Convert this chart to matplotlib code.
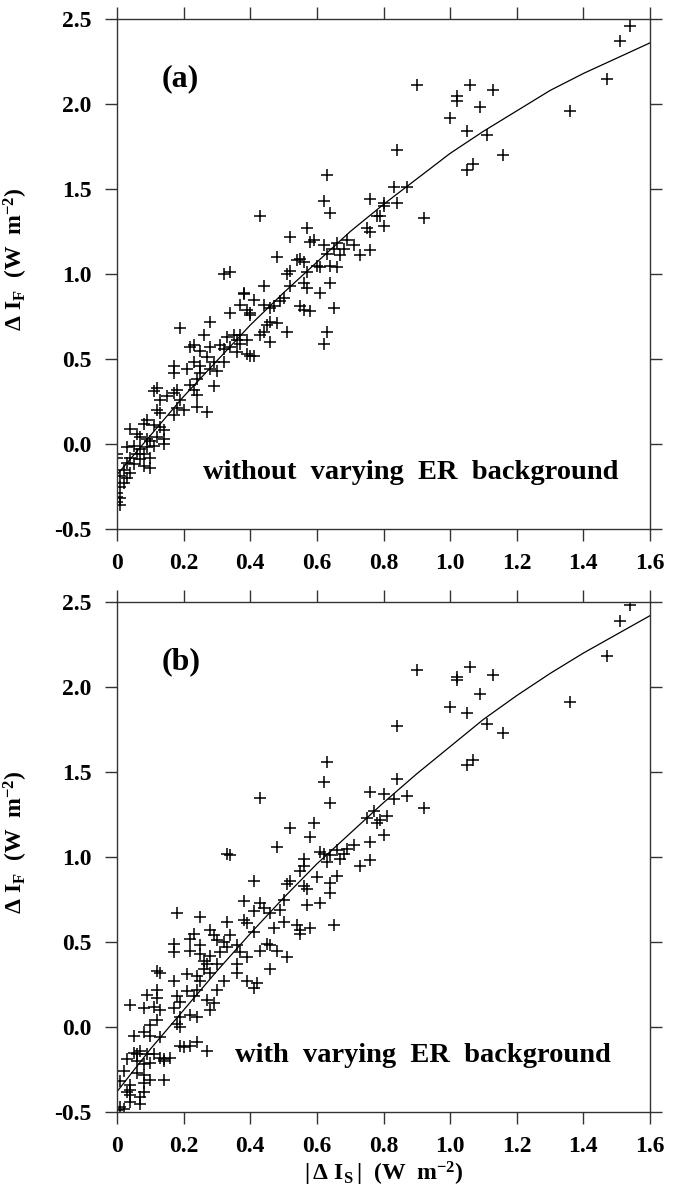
import matplotlib
matplotlib.use('Agg')
import matplotlib.pyplot as plt

plt.rcParams['font.family'] = ['Liberation Serif', 'DejaVu Serif']
plt.rcParams['font.weight'] = 'bold'
plt.rcParams['mathtext.fontset'] = 'custom'
plt.rcParams['mathtext.rm'] = 'Liberation Serif:bold'
plt.rcParams['mathtext.it'] = 'Liberation Serif:bold'
plt.rcParams['mathtext.bf'] = 'Liberation Serif:bold'

# panel (a): without varying ER background
pts_a = [
    (1.54, 2.46), (1.51, 2.37), (1.47, 2.15), (1.36, 1.96), (1.16, 1.70), (1.13, 2.08),
    (1.11, 1.82), (1.09, 1.98), (1.07, 1.65), (1.06, 2.11), (1.05, 1.84), (1.05, 1.61),
    (1.02, 2.05), (1.02, 2.02), (1.00, 1.92), (0.90, 2.11), (0.92, 1.33), (0.84, 1.73),
    (0.83, 1.51), (0.87, 1.51), (0.84, 1.42), (0.80, 1.40), (0.80, 1.42), (0.80, 1.28),
    (0.79, 1.34),
    (0.63, 1.58), (0.62, 1.43), (0.64, 1.36), (0.43, 1.34), (0.76, 1.44), (0.78, 1.34),
    (0.75, 1.27), (0.76, 1.25), (0.57, 1.27), (0.52, 1.22), (0.59, 1.20), (0.58, 1.19),
    (0.62, 1.17), (0.66, 1.18), (0.69, 1.20), (0.71, 1.17), (0.68, 1.15), (0.65, 1.15),
    (0.63, 1.12), (0.67, 1.11), (0.76, 1.14), (0.73, 1.11), (0.48, 1.10), (0.55, 1.09),
    (0.56, 1.07), (0.54, 1.08), (0.61, 1.04), (0.60, 1.05), (0.64, 1.05), (0.66, 1.04),
    (0.52, 1.02), (0.51, 1.00), (0.57, 1.01), (0.44, 0.93), (0.52, 0.93), (0.56, 0.95),
    (0.57, 0.92), (0.64, 0.95), (0.61, 0.89), (0.38, 0.89), (0.41, 0.85), (0.50, 0.86),
    (0.49, 0.84), (0.47, 0.81), (0.44, 0.82), (0.55, 0.81), (0.56, 0.79), (0.58, 0.78),
    (0.65, 0.80), (0.39, 0.79), (0.40, 0.76), (0.46, 0.72), (0.45, 0.70), (0.48, 0.71),
    (0.51, 0.66), (0.44, 0.66), (0.43, 0.64), (0.63, 0.66), (0.62, 0.59), (0.46, 0.60),
    (0.39, 0.61), (0.37, 0.64), (0.37, 0.59), (0.39, 0.53), (0.41, 0.52), (0.32, 1.00),
    (0.34, 1.01), (0.38, 0.88), (0.34, 0.77), (0.28, 0.72), (0.19, 0.68), (0.37, 0.82),
    (0.40, 0.77), (0.46, 0.80),
    (0.26, 0.64), (0.23, 0.58), (0.22, 0.57), (0.25, 0.55), (0.28, 0.57), (0.31, 0.58),
    (0.32, 0.56), (0.34, 0.57), (0.36, 0.54), (0.33, 0.63), (0.35, 0.64), (0.36, 0.61),
    (0.40, 0.52), (0.32, 0.48), (0.29, 0.48), (0.27, 0.51), (0.23, 0.48), (0.17, 0.46),
    (0.17, 0.42), (0.21, 0.44), (0.25, 0.46), (0.25, 0.42), (0.28, 0.44), (0.30, 0.43),
    (0.24, 0.38), (0.22, 0.35), (0.29, 0.34), (0.23, 0.32), (0.18, 0.32), (0.17, 0.30),
    (0.12, 0.33), (0.11, 0.31), (0.15, 0.28), (0.19, 0.26), (0.24, 0.29), (0.13, 0.26),
    (0.12, 0.20), (0.13, 0.18), (0.18, 0.21), (0.20, 0.20), (0.24, 0.22), (0.27, 0.19),
    (0.17, 0.17), (0.09, 0.14), (0.08, 0.12), (0.11, 0.11), (0.13, 0.10), (0.14, 0.08),
    (0.04, 0.09), (0.06, 0.06), (0.07, 0.04), (0.09, 0.03), (0.10, 0.02), (0.12, 0.04),
    (0.14, 0.03), (0.14, 0.00), (0.03, -0.02), (0.05, -0.01), (0.07, -0.03), (0.09, -0.02),
    (0.11, -0.01), (0.08, -0.06), (0.06, -0.06), (0.04, -0.08), (0.10, -0.08), (0.07, -0.09),
    (0.00, -0.08), (0.03, -0.11), (0.05, -0.12), (0.08, -0.13), (0.10, -0.14), (0.02, -0.15),
    (0.04, -0.17), (0.01, -0.19), (0.03, -0.20), (0.02, -0.23), (0.01, -0.25), (0.00, -0.29),
    (0.01, -0.32), (0.00, -0.34), (0.01, -0.36), (0.00, -0.31), (0.00, -0.06),
]

# panel (b): with varying ER background
pts_b = [
    (1.54, 2.48), (1.51, 2.39), (1.47, 2.18), (1.36, 1.91), (1.16, 1.73), (1.13, 2.07),
    (1.11, 1.78), (1.09, 1.96), (1.07, 1.57), (1.06, 2.12), (1.05, 1.85), (1.05, 1.54),
    (1.02, 2.06), (1.02, 2.04), (1.00, 1.88), (0.90, 2.10), (0.92, 1.29), (0.84, 1.77),
    (0.84, 1.46), (0.87, 1.36), (0.83, 1.34), (0.80, 1.37), (0.81, 1.24), (0.80, 1.13),
    (0.79, 1.22),
    (0.63, 1.56), (0.62, 1.44), (0.64, 1.32), (0.43, 1.35), (0.76, 1.38), (0.77, 1.27),
    (0.75, 1.23), (0.78, 1.20), (0.76, 1.09), (0.76, 0.98), (0.73, 0.95), (0.71, 1.07),
    (0.69, 1.05), (0.68, 1.02), (0.67, 0.99), (0.66, 1.04), (0.64, 1.01), (0.62, 1.02),
    (0.63, 0.97), (0.61, 1.03), (0.59, 1.20), (0.52, 1.17), (0.58, 1.12), (0.48, 1.06),
    (0.56, 0.99), (0.56, 0.95), (0.55, 0.92), (0.66, 0.89), (0.60, 0.88), (0.64, 0.85),
    (0.52, 0.86), (0.51, 0.84), (0.41, 0.86), (0.56, 0.83), (0.57, 0.81), (0.64, 0.79),
    (0.50, 0.75), (0.61, 0.73), (0.57, 0.72), (0.43, 0.73), (0.44, 0.70), (0.41, 0.68),
    (0.46, 0.67), (0.49, 0.69), (0.50, 0.62), (0.38, 0.74), (0.38, 0.63), (0.39, 0.61),
    (0.47, 0.58), (0.54, 0.60), (0.55, 0.57), (0.58, 0.58), (0.65, 0.60), (0.41, 0.56),
    (0.55, 0.55), (0.33, 1.02), (0.34, 1.01), (0.45, 0.49), (0.46, 0.48), (0.48, 0.45),
    (0.51, 0.41), (0.43, 0.45),
    (0.18, 0.67), (0.25, 0.65), (0.33, 0.62), (0.28, 0.57), (0.23, 0.55), (0.22, 0.52),
    (0.29, 0.54), (0.30, 0.51), (0.34, 0.54), (0.32, 0.50), (0.17, 0.49), (0.17, 0.44),
    (0.22, 0.45), (0.25, 0.48), (0.25, 0.43), (0.28, 0.42), (0.31, 0.44), (0.33, 0.47),
    (0.36, 0.48), (0.37, 0.44), (0.39, 0.41), (0.26, 0.39), (0.27, 0.37), (0.30, 0.37),
    (0.36, 0.37), (0.12, 0.33), (0.13, 0.32), (0.26, 0.34), (0.28, 0.32), (0.36, 0.32),
    (0.46, 0.34), (0.21, 0.31), (0.24, 0.30), (0.17, 0.27), (0.25, 0.27), (0.32, 0.27),
    (0.39, 0.27), (0.42, 0.26), (0.41, 0.23), (0.12, 0.22), (0.21, 0.21), (0.24, 0.22),
    (0.30, 0.22), (0.09, 0.19), (0.12, 0.17), (0.18, 0.18), (0.23, 0.18), (0.19, 0.15),
    (0.27, 0.16), (0.29, 0.14), (0.04, 0.13), (0.08, 0.11), (0.11, 0.12), (0.13, 0.10),
    (0.17, 0.11), (0.28, 0.10), (0.22, 0.07), (0.24, 0.06), (0.19, 0.06), (0.12, 0.04),
    (0.10, 0.01), (0.18, 0.02), (0.19, 0.00), (0.08, -0.03), (0.10, -0.05), (0.13, -0.06),
    (0.05, -0.05), (0.19, -0.11), (0.22, -0.11), (0.24, -0.09), (0.27, -0.14), (0.20, -0.12),
    (0.05, -0.15), (0.06, -0.16), (0.07, -0.14), (0.09, -0.16), (0.11, -0.16), (0.13, -0.18),
    (0.14, -0.19), (0.16, -0.18), (0.03, -0.19), (0.06, -0.20), (0.08, -0.22), (0.10, -0.21),
    (0.14, -0.20), (0.02, -0.26), (0.06, -0.27), (0.08, -0.28), (0.10, -0.31), (0.14, -0.31),
    (0.01, -0.32), (0.04, -0.34), (0.08, -0.33), (0.03, -0.38), (0.04, -0.40), (0.07, -0.41),
    (0.04, -0.44), (0.07, -0.45), (0.01, -0.47), (0.02, -0.48), (0.00, -0.49), (0.08, -0.38),
    (0.04, -0.37),
]

# fitted curves
fit_x = [0.0, 0.1, 0.2, 0.3, 0.4, 0.5, 0.6, 0.7, 0.8,
         0.9, 1.0, 1.1, 1.2, 1.3, 1.4, 1.5, 1.6]
fit_a = [-0.18, 0.05, 0.28, 0.49, 0.70, 0.89, 1.07, 1.25, 1.41,
         1.56, 1.71, 1.84, 1.96, 2.08, 2.18, 2.27, 2.36]
fit_b = [-0.38, -0.13, 0.10, 0.33, 0.55, 0.76, 0.96, 1.14, 1.32,
         1.49, 1.65, 1.81, 1.95, 2.08, 2.20, 2.31, 2.42]

xticks = [0, 0.2, 0.4, 0.6, 0.8, 1.0, 1.2, 1.4, 1.6]
xtick_labels = ['0', '0.2', '0.4', '0.6', '0.8', '1.0', '1.2', '1.4', '1.6']
yticks = [-0.5, 0.0, 0.5, 1.0, 1.5, 2.0, 2.5]
ytick_labels = ['-0.5', '0.0', '0.5', '1.0', '1.5', '2.0', '2.5']

ylabel = r'$\Delta\ \mathrm{I_F}$  (W  m$^{\mathrm{-2}}$)'
xlabel = r'$|\,\Delta\ \mathrm{I_S}\,|$  (W  m$^{\mathrm{-2}}$)'


def draw_panel(ax, pts, fit_y, tag, note, note_x):
    xs = [p[0] for p in pts]
    ys = [p[1] for p in pts]
    ax.plot(xs, ys, linestyle='none', marker='+', markersize=9,
            markeredgewidth=1.1, color='black')
    ax.plot(fit_x, fit_y, color='black', linewidth=0.9)
    ax.set_xlim(0, 1.6)
    ax.set_ylim(-0.5, 2.5)
    ax.set_xticks(xticks)
    ax.set_xticklabels(xtick_labels)
    ax.set_yticks(yticks)
    ax.set_yticklabels(ytick_labels)
    ax.tick_params(direction='out', length=8.5, width=1.0, color='#333333',
                   labelsize=17, top=True, right=True)
    ax.tick_params(axis='x', pad=9)
    ax.tick_params(axis='y', pad=10)
    for sp in ax.spines.values():
        sp.set_linewidth(1.0)
        sp.set_color('#333333')
    ax.set_ylabel(ylabel, fontsize=17, fontweight='bold')
    ax.yaxis.set_label_coords(-0.163, 0.53)
    ax.text(0.135, 2.15, tag, fontsize=23, fontweight='bold', va='center', ha='left')
    ax.text(note_x, -0.165, note, fontsize=20.5, fontweight='bold', va='center', ha='left')


fig = plt.figure(figsize=(6.86, 11.91), dpi=100)
ax1 = fig.add_axes([0.1706, 0.5558, 0.777, 0.4282])
ax2 = fig.add_axes([0.1706, 0.0663, 0.777, 0.4282])

draw_panel(ax1, pts_a, fit_a, '(a)', 'without  varying  ER  background', 0.258)
draw_panel(ax2, pts_b, fit_b, '(b)', 'with  varying  ER  background', 0.354)
ax2.set_xlabel(xlabel, fontsize=17, fontweight='bold', labelpad=2)

fig.savefig('out.png', dpi=100)
